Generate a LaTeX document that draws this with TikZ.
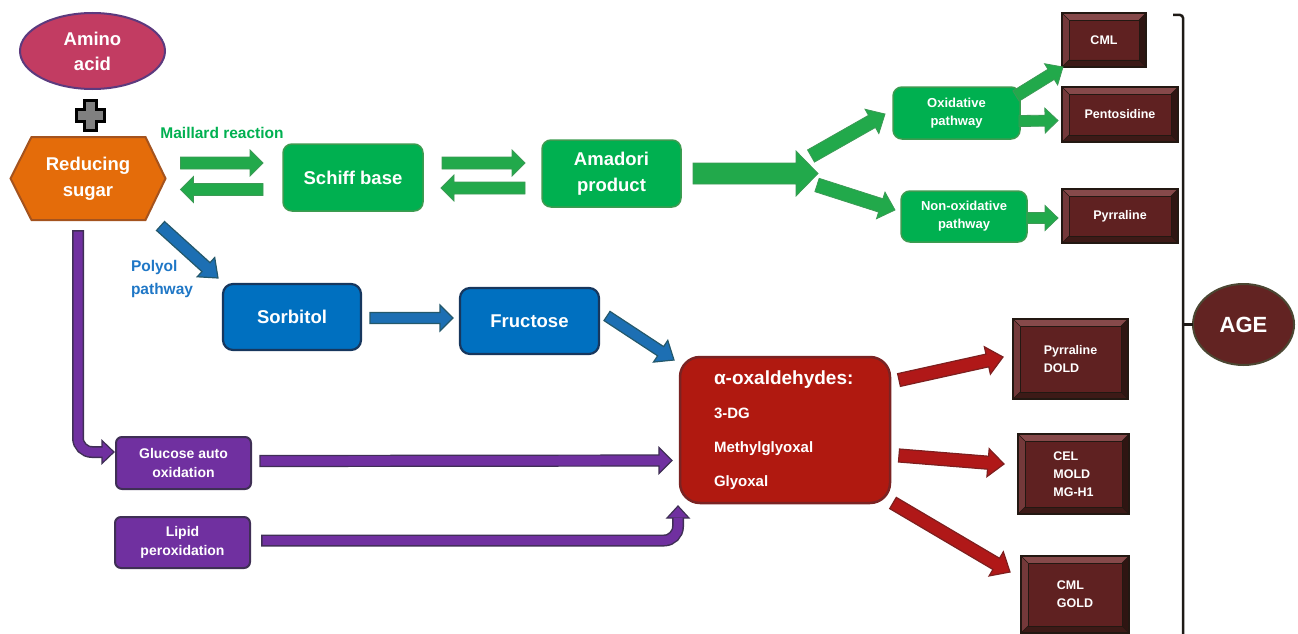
\documentclass[tikz,border=0pt]{standalone}
\usepackage{fontspec}
\setmainfont{Liberation Sans}
\usetikzlibrary{calc,shapes.geometric,backgrounds}
\definecolor{amfill}{HTML}{C23C62}
\definecolor{amdraw}{HTML}{5C3A7E}
\definecolor{orfill}{HTML}{E46C0A}
\definecolor{ordraw}{HTML}{A4531E}
\definecolor{gfill}{HTML}{00B050}
\definecolor{gdraw}{HTML}{3D9B50}
\definecolor{garfill}{HTML}{22A94B}
\definecolor{gardraw}{HTML}{3C9A55}
\definecolor{gtext}{HTML}{00B050}
\definecolor{bfill}{HTML}{0070C0}
\definecolor{bdraw}{HTML}{17375E}
\definecolor{barfill}{HTML}{1D6FB3}
\definecolor{bardraw}{HTML}{24586B}
\definecolor{btext}{HTML}{1F77C6}
\definecolor{pfill}{HTML}{7030A0}
\definecolor{pdraw}{HTML}{3F2F55}
\definecolor{rfill}{HTML}{B01910}
\definecolor{rdraw}{HTML}{7A2323}
\definecolor{rarfill}{HTML}{B01818}
\definecolor{rardraw}{HTML}{7D1F1F}
\definecolor{agefill}{HTML}{5F2121}
\definecolor{agedraw}{HTML}{231812}
\definecolor{bevtop}{HTML}{86494A}
\definecolor{bevleft}{HTML}{74393A}
\definecolor{bevbot}{HTML}{3D1A17}
\definecolor{bevright}{HTML}{2F1512}
\definecolor{agecfill}{HTML}{622322}
\definecolor{agecdraw}{HTML}{4B4632}
\definecolor{brk}{HTML}{1E1A16}
\definecolor{plusgray}{HTML}{808080}

\newcommand\blockarrow[6]{%
  \draw[#1] let \p1=#2, \p2=#3,
    \n1={atan2(\y2-\y1,\x2-\x1)},
    \n2={veclen(\x2-\x1,\y2-\y1)-#6}
  in ($(\p1)+(\n1+90:#4)$)
  -- ($(\p1)+(\n1:\n2)+(\n1+90:#4)$)
  -- ($(\p1)+(\n1:\n2)+(\n1+90:#5)$)
  -- (\p2)
  -- ($(\p1)+(\n1:\n2)+(\n1-90:#5)$)
  -- ($(\p1)+(\n1:\n2)+(\n1-90:#4)$)
  -- ($(\p1)+(\n1-90:#4)$) -- cycle;}

\newcommand\bevelbox[1]{%
  \fill[bevtop] (#1.north west) -- (#1.north east) -- ($(#1.north east)+(-7,7)$) -- ($(#1.north west)+(7,7)$) -- cycle;
  \fill[bevleft] (#1.north west) -- ($(#1.north west)+(7,7)$) -- ($(#1.south west)+(7,-7)$) -- (#1.south west) -- cycle;
  \fill[bevbot] (#1.south west) -- ($(#1.south west)+(7,-7)$) -- ($(#1.south east)+(-7,-7)$) -- (#1.south east) -- cycle;
  \fill[bevright] (#1.north east) -- (#1.south east) -- ($(#1.south east)+(-7,-7)$) -- ($(#1.north east)+(-7,7)$) -- cycle;
  \draw[agedraw, line width=0.6] (#1.north west) -- ($(#1.north west)+(7,7)$) (#1.north east) -- ($(#1.north east)+(-7,7)$) (#1.south west) -- ($(#1.south west)+(7,-7)$) (#1.south east) -- ($(#1.south east)+(-7,-7)$);
  \draw[agedraw, line width=0.8] ($(#1.north west)+(7,7)$) rectangle ($(#1.south east)+(-7,-7)$);
  \draw[agedraw, line width=2.5] (#1.north west) rectangle (#1.south east);}

\begin{document}
\begin{tikzpicture}[x=1pt,y=-1pt,
  every node/.style={inner sep=0pt, outer sep=0pt, text=white, align=center},
  bigf/.style={font=\bfseries\fontsize{18.5}{26}\selectfont},
  midf/.style={font=\bfseries\fontsize{14}{19}\selectfont},
  smf/.style={font=\bfseries\fontsize{12.5}{18}\selectfont},
  gbox/.style={draw=gdraw, fill=gfill, line width=1.5pt, rounded corners=9pt},
  bbox/.style={draw=bdraw, fill=bfill, line width=2.2pt, rounded corners=10pt},
  pbox/.style={draw=pdraw, fill=pfill, line width=2pt, rounded corners=6pt},
  agebox/.style={fill=agefill, smf, align=left},
  garrow/.style={fill=garfill, draw=gardraw, line width=0.8pt},
  barrow/.style={fill=barfill, draw=bardraw, line width=1.2pt},
  parrow/.style={fill=pfill, draw=pdraw, line width=1.2pt},
  rarrow/.style={fill=rarfill, draw=rardraw, line width=1.2pt}]
\useasboundingbox (0,0) rectangle (1298,634);

% amino acid and plus
\node[ellipse, draw=amdraw, fill=amfill, line width=2pt, minimum width=145pt, minimum height=76pt,
  font=\bfseries\fontsize{18.5}{25}\selectfont] (amino) at (92.5,51) {Amino\\acid};
\draw[fill=plusgray, draw=black, line width=3pt, line join=miter]
  (84,100) -- (96,100) -- (96,109) -- (104,109) -- (104,121) -- (96,121)
  -- (96,130) -- (84,130) -- (84,121) -- (76,121) -- (76,109) -- (84,109) -- cycle;

% reducing sugar
\node[bigf, minimum width=155pt, minimum height=83pt] (sugar) at (88,178.5) {Reducing\\sugar};
\begin{pgfonlayer}{background}
\draw[fill=orfill, draw=ordraw, line width=2pt]
  (sugar.west) -- ($(sugar.north west)+(21,0)$) -- ($(sugar.north east)+(-20,0)$)
  -- (sugar.east) -- ($(sugar.south east)+(-20,0)$) -- ($(sugar.south west)+(21,0)$) -- cycle;
\end{pgfonlayer}

\node[text=gtext, font=\bfseries\fontsize{15.5}{19}\selectfont] (maillard) at (222,133) {Maillard reaction};
\node[text=btext, font=\bfseries\fontsize{15.5}{23}\selectfont, anchor=west, align=left] (polyol) at (131,279) {Polyol\\pathway};

% green nodes
\node[gbox, bigf, minimum width=140pt, minimum height=67pt] (schiff) at (353,177.5) {Schiff base};
\node[gbox, bigf, minimum width=139pt, minimum height=67pt] (amadori) at (611.5,173.5) {Amadori\\product};
\node[gbox, font=\bfseries\fontsize{13}{18}\selectfont, minimum width=127pt, minimum height=52pt] (oxid) at (956.5,113) {Oxidative\\pathway};
\node[gbox, font=\bfseries\fontsize{13}{18}\selectfont, minimum width=126pt, minimum height=51pt] (nonox) at (964,216.5) {Non-oxidative\\pathway};
\coordinate (split) at (818,173.5);

% blue nodes
\node[bbox, bigf, minimum width=138pt, minimum height=66pt] (sorb) at (292,317) {Sorbitol};
\node[bbox, bigf, minimum width=139pt, minimum height=66pt] (fruc) at (529.5,321) {Fructose};

% purple nodes
\node[pbox, midf, minimum width=135pt, minimum height=52pt] (gluc) at (183.5,463) {Glucose auto\\oxidation};
\node[pbox, midf, minimum width=135pt, minimum height=51pt] (lipid) at (182.5,542.5) {Lipid\\peroxidation};

% alpha-oxaldehydes
\node[draw=rdraw, fill=rfill, line width=2.5pt, rounded corners=20pt, minimum width=210pt, minimum height=146pt,
  text width=142pt, align=left, font=\bfseries\fontsize{15}{34}\selectfont] (oxal) at (785,430)
  {{\fontsize{19}{34}\selectfont α-oxaldehydes:}\\3-DG\\Methylglyoxal\\Glyoxal};

% AGE boxes
\node[agebox, minimum width=84pt, minimum height=54pt] (cml1) at (1104,40) {CML};
\bevelbox{cml1}
\node[agebox, minimum width=116pt, minimum height=55pt] (pent) at (1120,114.5) {Pentosidine};
\bevelbox{pent}
\node[agebox, minimum width=116pt, minimum height=54pt] (pyr1) at (1120,216) {Pyrraline};
\bevelbox{pyr1}
\node[agebox, minimum width=115pt, minimum height=80pt] (pyr2) at (1070.5,359) {Pyrraline\\DOLD};
\bevelbox{pyr2}
\node[agebox, minimum width=111pt, minimum height=80pt] (cel) at (1073.5,474) {CEL\\MOLD\\MG-H1};
\bevelbox{cel}
\node[agebox, minimum width=108pt, minimum height=77pt] (cml2) at (1075,594.5) {CML\\GOLD};
\bevelbox{cml2}

% AGE circle and bracket
\node[ellipse, draw=agecdraw, fill=agecfill, line width=2pt, minimum width=101pt, minimum height=81pt,
  font=\bfseries\fontsize{22}{26}\selectfont] (age) at (1243.5,324.5) {AGE};
\draw[brk, line width=2.5pt, rounded corners=3pt] ($(cml1.north east)+(27,2)$) -- ($(cml1.north east)+(37,2)$) -- ($(cml1.north east)+(37,640)$);
\draw[brk, line width=2.5pt] ($(age.west)+(-10,0)$) -- (age.west);

% green arrows
\blockarrow{garrow}{($(sugar.east)+(15,-15.5)$)}{($(schiff.west)+(-20,-14.5)$)}{6pt}{13pt}{13pt}
\blockarrow{garrow}{($(schiff.west)+(-20,12)$)}{($(sugar.east)+(15,11)$)}{6pt}{13pt}{13pt}
\blockarrow{garrow}{($(schiff.east)+(19,-14.5)$)}{($(amadori.west)+(-17,-10.5)$)}{6pt}{13pt}{13pt}
\blockarrow{garrow}{($(amadori.west)+(-17,14.5)$)}{($(schiff.east)+(18,10.5)$)}{6pt}{13pt}{13pt}
\blockarrow{garrow}{($(amadori.east)+(12,0)$)}{(split)}{10.5pt}{22.5pt}{22pt}
\blockarrow{garrow}{($(split)+(-7,-17.5)$)}{($(oxid.west)+(-8,1)$)}{7pt}{14pt}{15pt}
\blockarrow{garrow}{($(split)+(-1,11.5)$)}{($(nonox.west)+(-6,-6.5)$)}{7pt}{14pt}{15pt}
\blockarrow{garrow}{($(oxid.east)+(-4,-17)$)}{($(cml1.south west)+(1,0)$)}{6pt}{12.5pt}{14pt}
\blockarrow{garrow}{($(oxid.east)+(-1,8)$)}{($(pent.west)+(-4,6)$)}{5.5pt}{12.5pt}{13pt}
\blockarrow{garrow}{($(nonox.east)+(0,1.5)$)}{($(pyr1.west)+(-4,2)$)}{5.5pt}{12.5pt}{13pt}

% blue arrows
\blockarrow{barrow}{($(sugar.south east)+(-5,6)$)}{($(sorb.north west)+(-5,-6)$)}{6pt}{13pt}{16pt}
\blockarrow{barrow}{($(sorb.east)+(9,1)$)}{($(fruc.west)+(-7,-3)$)}{5.5pt}{13pt}{13pt}
\blockarrow{barrow}{($(fruc.east)+(8,-5)$)}{($(oxal.north west)+(-6,3)$)}{5.5pt}{13pt}{16pt}

% red arrows
\blockarrow{rarrow}{($(oxal.east)+(9,-50)$)}{($(pyr2.west)+(-10,-2)$)}{6.5pt}{14pt}{16pt}
\blockarrow{rarrow}{($(oxal.east)+(9,25.5)$)}{($(cel.west)+(-14,-10)$)}{6.5pt}{14pt}{16pt}
\blockarrow{rarrow}{($(oxal.south east)+(3,0)$)}{($(cml2.west)+(-11,-22.5)$)}{6.5pt}{14pt}{16pt}

% purple arrows
\blockarrow{parrow}{($(gluc.east)+(9,-2)$)}{($(oxal.west)+(-8,30.5)$)}{5.5pt}{13pt}{13pt}

\coordinate (pa) at ($(sugar.south)+(-10,10)$);
\coordinate (pt1) at ($(gluc.west)+(-2,-11)$);
\draw[pdraw, line width=12pt, rounded corners=14pt] (pa) |- ($(pt1)+(-11,0)$);
\draw[fill=pfill, draw=pdraw, line width=1.2pt] (pt1) -- ($(pt1)+(-12,-11.5)$) -- ($(pt1)+(-12,11.5)$) -- cycle;
\draw[pfill, line width=9pt, rounded corners=14pt] ($(pa)+(0,1.5)$) |- ($(pt1)+(-10.5,0)$);

\coordinate (la) at ($(lipid.east)+(11,-2)$);
\coordinate (lt) at ($(oxal.south west)+(-2,3)$);
\draw[pdraw, line width=12pt, rounded corners=14pt] (la) -| ($(lt)+(0,11)$);
\draw[fill=pfill, draw=pdraw, line width=1.2pt] (lt) -- ($(lt)+(-11,12)$) -- ($(lt)+(11,12)$) -- cycle;
\draw[pfill, line width=9pt, rounded corners=14pt] ($(la)+(1.5,0)$) -| ($(lt)+(0,11.5)$);
\end{tikzpicture}
\end{document}
